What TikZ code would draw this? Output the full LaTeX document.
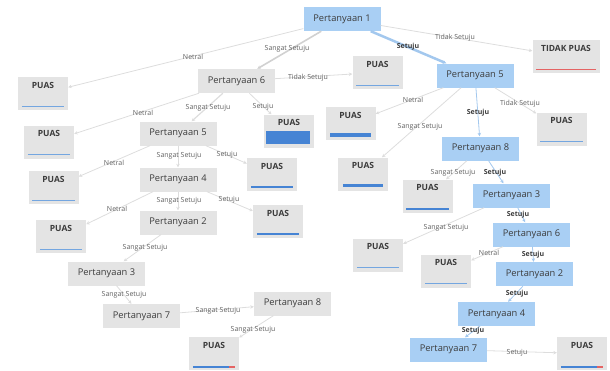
\documentclass[tikz,border=0pt]{standalone}
\usepackage{fontspec}
\setmainfont{Open Sans}
\usetikzlibrary{arrows.meta}
\definecolor{kotak}{HTML}{E4E4E4}
\definecolor{kotakbiru}{HTML}{A9CFF4}
\definecolor{garis}{HTML}{DDDDDD}
\definecolor{garisbiru}{HTML}{A3C8EE}
\definecolor{tulisan}{HTML}{3C3C3C}
\definecolor{batang}{HTML}{74A6E0}
\definecolor{batangtua}{HTML}{4684D4}
\definecolor{merah}{HTML}{E46464}

\begin{document}
\begin{tikzpicture}[x=1pt, y=-1pt,
    soal/.style={fill=kotak, minimum width=77pt, minimum height=24pt, inner sep=0pt,
        text=tulisan, font=\fontsize{9.3}{10}\selectfont},
    soalbiru/.style={soal, fill=kotakbiru},
    puas/.style={fill=kotak, minimum width=50pt, minimum height=33pt, inner sep=0pt,
        text height=7pt, text depth=18pt, text=tulisan, font=\bfseries\fontsize{8.5}{9}\selectfont},
    ket/.style={text=black!62, font=\fontsize{7}{8}\selectfont, inner sep=1pt},
    ketbiru/.style={ket, text=tulisan, font=\bfseries\fontsize{7}{8}\selectfont},
    panah/.style={draw=garis, line width=0.8pt, -{Stealth[length=3.5pt,width=3.5pt]}},
    panahbiru/.style={panah, draw=garisbiru},
    batang/.style={draw=batang, line width=1.4pt},
    batangtebal/.style={draw=batangtua, line width=2pt}]
    % keep the page the size of the screenshot
    \useasboundingbox (0,0) rectangle (610,370);

    % root and first level
    \node[soalbiru] (p1) at (342,19) {Pertanyaan 1};
    \node[puas, minimum width=67pt] (tp) at (566,56.5) {TIDAK PUAS};
    \node[puas] (pu1) at (43,93.5) {PUAS};
    \node[soal] (p6g) at (236.5,81) {Pertanyaan 6};
    \node[puas] (pu2) at (377.5,72.5) {PUAS};
    \node[soalbiru] (p5b) at (475,75.5) {Pertanyaan 5};
    % left branch
    \node[puas] (pu3) at (289,131) {PUAS};
    \node[soal] (p5g) at (178,133.5) {Pertanyaan 5};
    \node[puas] (pu4) at (49,142) {PUAS};
    \node[soal] (p4g) at (178,179.5) {Pertanyaan 4};
    \node[puas] (pu5) at (272,174.5) {PUAS};
    \node[puas] (pu6) at (53.5,187.5) {PUAS};
    \node[soal] (p2g) at (178,222.5) {Pertanyaan 2};
    \node[puas] (pu7) at (278,221.5) {PUAS};
    \node[puas] (pu8) at (61,236.5) {PUAS};
    \node[soal] (p3g) at (106.5,273.5) {Pertanyaan 3};
    \node[soal] (p7g) at (141.5,316) {Pertanyaan 7};
    \node[soal] (p8g) at (292.5,303.5) {Pertanyaan 8};
    \node[puas] (pf1) at (214,353.5) {PUAS};
    % right branch
    \node[puas] (puA) at (350.5,123.5) {PUAS};
    \node[puas] (puB) at (363,174) {PUAS};
    \node[puas] (puR) at (561.5,129) {PUAS};
    \node[soalbiru] (p8b) at (480.5,148.5) {Pertanyaan 8};
    \node[puas] (puC) at (427.5,196) {PUAS};
    \node[soalbiru] (p3b) at (511.5,195.5) {Pertanyaan 3};
    \node[soalbiru] (p6b) at (531.5,234.5) {Pertanyaan 6};
    \node[puas] (puD) at (378,255) {PUAS};
    \node[puas] (puE) at (446,271) {PUAS};
    \node[soalbiru] (p2b) at (534.5,274) {Pertanyaan 2};
    \node[soalbiru] (p4b) at (496.5,314) {Pertanyaan 4};
    \node[soalbiru] (p7b) at (448.5,349.5) {Pertanyaan 7};
    \node[puas] (pf2) at (582,353.5) {PUAS};

    % bars at the bottom of the leaves
    \foreach \n in {pu1,pu2,pu4,pu6,pu8,puR,puD,puE}
        \draw[batang] ([shift={(4pt,4pt)}]\n.south west) -- ([shift={(-4pt,4pt)}]\n.south east);
    \foreach \n in {pu5,pu7,puC}
        \draw[batangtebal] ([shift={(4pt,4pt)}]\n.south west) -- ([shift={(-4pt,4pt)}]\n.south east);
    \foreach \n in {puA,puB}
        \draw[batangtebal, line width=3.5pt] ([shift={(5pt,5pt)}]\n.south west) -- ([shift={(-5pt,5pt)}]\n.south east);
    \fill[batangtua] ([shift={(2pt,4pt)}]pu3.south west) rectangle ([shift={(-4pt,17pt)}]pu3.south east);
    \draw[merah, line width=1.2pt] ([shift={(4pt,4pt)}]tp.south west) -- ([shift={(-4pt,4pt)}]tp.south east);
    \foreach \n in {pf1,pf2} {
        \draw[batangtebal, line width=1.5pt] ([shift={(4pt,3pt)}]\n.south west) -- ([shift={(-10pt,3pt)}]\n.south east);
        \draw[merah, line width=1.5pt] ([shift={(-10pt,3pt)}]\n.south east) -- ([shift={(-4pt,3pt)}]\n.south east);
    }

    % connectors
    \draw[panahbiru, line width=2.5pt] (p1) -- (p5b);
    \draw[panah, line width=1.6pt, draw=black!18] (p1) -- (p6g);
    \draw[panah] (p1) -- (tp);
    \draw[panah] (p1) -- (pu1);
    \draw[panah] (p6g) -- (pu2);
    \draw[panah, line width=1.2pt] (p6g) -- (p5g);
    \draw[panah] (p6g) -- (pu3);
    \draw[panah] (p6g) -- (pu4);
    \draw[panah] (p5g) -- (p4g);
    \draw[panah] (p5g) -- (pu5);
    \draw[panah] (p5g) -- (pu6);
    \draw[panah] (p4g) -- (p2g);
    \draw[panah] (p4g) -- (pu7);
    \draw[panah] (p4g) -- (pu8);
    \draw[panah] (p2g) -- (p3g);
    \draw[panah] (p3g) -- (p7g);
    \draw[panah] (p7g) -- (p8g);
    \draw[panah] (p8g) -- (pf1);
    \draw[panah] (p5b) -- (puA);
    \draw[panah] (p5b) -- (puB);
    \draw[panah] (p5b) -- (puR);
    \draw[panahbiru] (p5b) -- (p8b);
    \draw[panah] (p8b) -- (puC);
    \draw[panahbiru] (p8b) -- (p3b);
    \draw[panahbiru] (p3b) -- (p6b);
    \draw[panah] (p3b) -- (puD);
    \draw[panah] (p6b) -- (puE);
    \draw[panahbiru] (p6b) -- (p2b);
    \draw[panahbiru] (p2b) -- (p4b);
    \draw[panahbiru] (p4b) -- (p7b);
    \draw[panah] (p7b) -- (pf2);

    % answer labels
    \node[ket] (k1) at (193,57) {Netral};
    \node[ket] (k2) at (287,49) {Sangat Setuju};
    \node[ket] (k3) at (455,38) {Tidak Setuju};
    \node[ketbiru] (k4) at (408,47) {Setuju};
    \node[ket] (k5) at (308,78) {Tidak Setuju};
    \node[ket] (k6) at (143,113) {Netral};
    \node[ket] (k7) at (208,108) {Sangat Setuju};
    \node[ket] (k8) at (263,107) {Setuju};
    \node[ket] (k9) at (413,100) {Netral};
    \node[ket] (k10) at (420,127) {Sangat Setuju};
    \node[ketbiru] (k11) at (478,113) {Setuju};
    \node[ket] (k12) at (520,104) {Tidak Setuju};
    \node[ket] (k13) at (114,163) {Netral};
    \node[ket] (k14) at (179,156) {Sangat Setuju};
    \node[ket] (k15) at (227,155) {Setuju};
    \node[ket] (k16) at (117,209) {Netral};
    \node[ket] (k17) at (179,201) {Sangat Setuju};
    \node[ket] (k18) at (229,200) {Setuju};
    \node[ket] (k19) at (145,248) {Sangat Setuju};
    \node[ket] (k20) at (124,295) {Sangat Setuju};
    \node[ket] (k21) at (218,311) {Sangat Setuju};
    \node[ket] (k22) at (253,330) {Sangat Setuju};
    \node[ket] (k23) at (453,173) {Sangat Setuju};
    \node[ketbiru] (k24) at (495,173) {Setuju};
    \node[ketbiru] (k25) at (518,215) {Setuju};
    \node[ket] (k26) at (446,228) {Sangat Setuju};
    \node[ket] (k27) at (489,253) {Netral};
    \node[ketbiru] (k28) at (533,255) {Setuju};
    \node[ketbiru] (k29) at (517,294) {Setuju};
    \node[ketbiru] (k30) at (473,331) {Setuju};
    \node[ket] (k31) at (517,353) {Setuju};
\end{tikzpicture}
\end{document}
